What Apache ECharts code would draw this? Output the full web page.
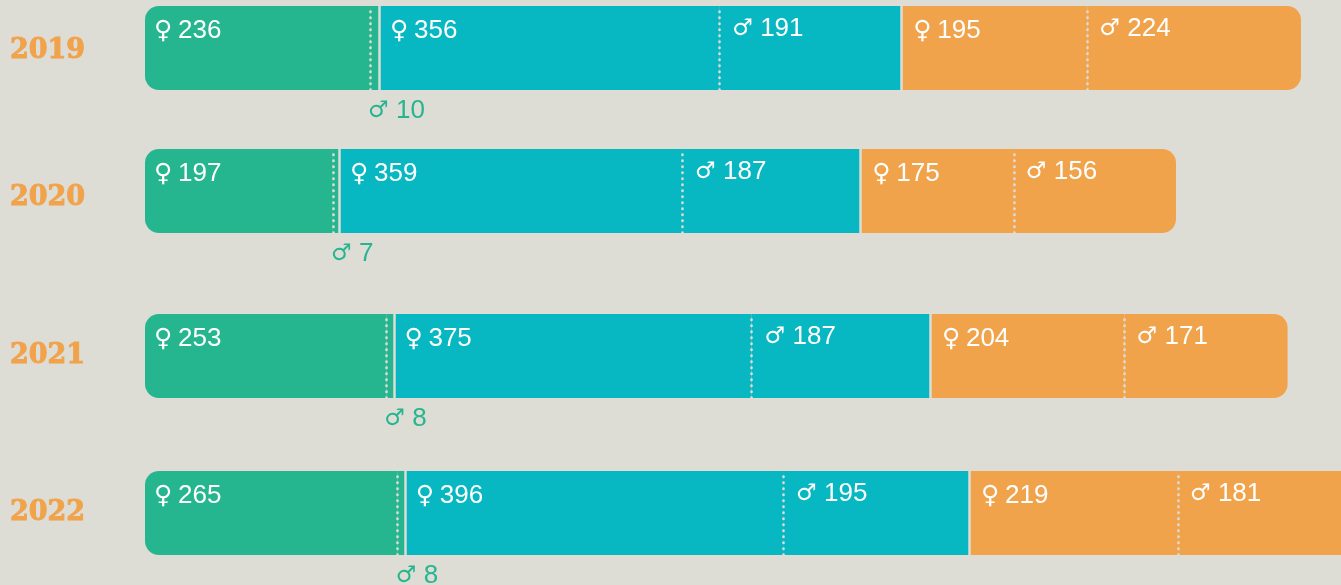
<!DOCTYPE html>
<html>
<head>
<meta charset="utf-8">
<style>
  html, body { margin: 0; padding: 0; background: #dddcd5; overflow: hidden; }
  #chart { width: 1341px; height: 585px; }
</style>
</head>
<body>
<div id="chart"></div>
<script src="https://cdn.jsdelivr.net/npm/echarts@6/dist/echarts.min.js"></script>
<script>
const years = ['2019', '2020', '2021', '2022']

const greenFemale = [236, 197, 253, 265]
const greenMale = [10, 7, 8, 8]
const tealFemale = [356, 359, 375, 396]
const tealMale = [191, 187, 187, 195]
const orangeFemale = [195, 175, 204, 219]
const orangeMale = [224, 156, 171, 181]

// the 2020 orange bars are not drawn to their printed numbers in the picture
const orangeFemaleDrawn = [195, 161, 204, 219]
const orangeMaleDrawn = [224, 170, 171, 181]

const rowTops = [6, 149, 314, 471]
const yearNudge = [3, 7, 0, 0]
const labelInset = { greenF: 9, greenM: -2, tealF: 10.5, tealM: 13, orangeF: 12, orangeM: 12 }

const AXIS_MAX = 1254

const GREEN = '#25b690'
const TEAL = '#07b7c1'
const ORANGE = '#f1a34c'
const BG = '#dddcd5'

const segments = [
  { name: 'greenF', color: GREEN, drawn: greenFemale, shown: greenFemale, sign: '♀' },
  { name: 'greenM', color: GREEN, drawn: greenMale, shown: greenMale, sign: '♂', below: true },
  { name: 'tealF', color: TEAL, drawn: tealFemale, shown: tealFemale, sign: '♀' },
  { name: 'tealM', color: TEAL, drawn: tealMale, shown: tealMale, sign: '♂' },
  { name: 'orangeF', color: ORANGE, drawn: orangeFemaleDrawn, shown: orangeFemale, sign: '♀' },
  { name: 'orangeM', color: ORANGE, drawn: orangeMaleDrawn, shown: orangeMale, sign: '♂' }
]

const richStyle = (color, female) => ({
  g: { fontFamily: 'DejaVu Sans', fontSize: female ? 25 : 23, color: color, width: female ? 24 : 28, align: 'left' },
  n: { fontFamily: 'Liberation Sans', fontSize: 26, color: color }
})

const grids = []
const xAxes = []
const yAxes = []
const series = []

years.forEach((year, row) => {
  // the last row runs off the right edge, so the axis stops short of its total
  grids.push({ left: 145, top: rowTops[row], right: 0, height: 84 })
  xAxes.push({ gridIndex: row, type: 'value', min: 0, max: AXIS_MAX, show: false })
  yAxes.push({
    gridIndex: row,
    type: 'category',
    data: [year],
    axisLine: { show: false },
    axisTick: { show: false },
    axisLabel: {
      margin: 135,
      align: 'left',
      formatter: '{y|{value}}',
      rich: {
        y: {
          fontFamily: 'DejaVu Serif',
          fontWeight: 'bold',
          fontSize: 27,
          color: ORANGE,
          textBorderColor: ORANGE,
          textBorderWidth: 1,
          padding: [yearNudge[row] * 2, 0, 0, 0]
        }
      }
    }
  })

  let sum = 0
  segments.forEach((seg, i) => {
    sum += seg.drawn[row]
    const female = seg.sign === '♀'
    let radius = 0
    if (i === 0) radius = [14, 0, 0, 14]
    // a bar cut off by the page edge keeps square corners there
    if (i === segments.length - 1 && sum <= AXIS_MAX) radius = [0, 14, 14, 0]
    const labelColor = seg.below ? GREEN : '#ffffff'

    series.push({
      name: seg.name + year,
      type: 'bar',
      xAxisIndex: row,
      yAxisIndex: row,
      stack: 'row' + year,
      barWidth: 84,
      silent: true,
      itemStyle: { color: seg.color, borderRadius: radius },
      label: {
        show: true,
        position: seg.below ? [labelInset[seg.name], 92] : [labelInset[seg.name], female ? 12 : 10],
        formatter: '{g|' + seg.sign + '}{n|' + seg.shown[row] + '}',
        rich: richStyle(labelColor, female)
      },
      // dotted line after a female part, solid gap after a male part
      markLine: i === segments.length - 1 ? undefined : {
        silent: true,
        symbol: 'none',
        animation: false,
        label: { show: false },
        lineStyle: female
          ? { color: BG, width: 2.6, type: [0.5, 5.5], cap: 'round', opacity: 1 }
          : { color: BG, width: 2.5, type: 'solid', opacity: 1 },
        data: [{ xAxis: sum }]
      },
      data: [seg.drawn[row]]
    })
  })
})

const chart = echarts.init(document.getElementById('chart'), null, { renderer: 'canvas' })
chart.setOption({
  animation: false,
  backgroundColor: BG,
  grid: grids,
  xAxis: xAxes,
  yAxis: yAxes,
  series: series
})
</script>
</body>
</html>
